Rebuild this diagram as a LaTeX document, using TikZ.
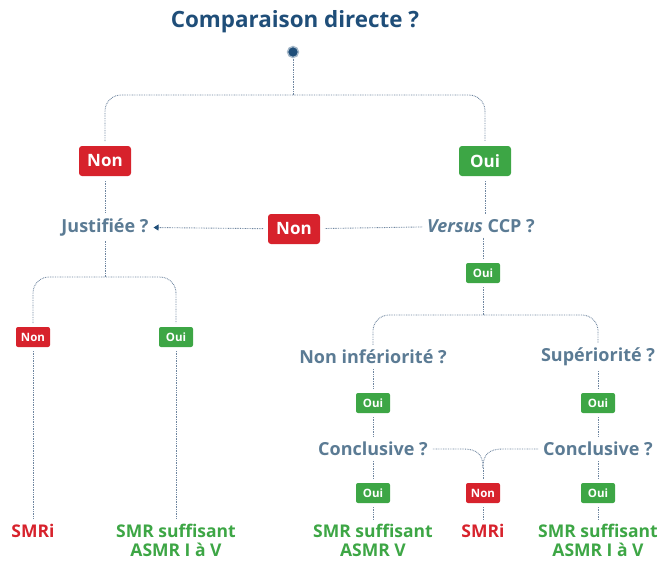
\documentclass[tikz,border=0pt]{standalone}
\usepackage{fontspec}
\setmainfont{Open Sans}
\usetikzlibrary{arrows.meta}
\definecolor{titleblue}{HTML}{1F4E79}
\definecolor{qblue}{HTML}{5B7B94}
\definecolor{redc}{HTML}{D7222C}
\definecolor{greenc}{HTML}{3DA645}
\definecolor{linec}{HTML}{6F86A0}
\begin{document}
\begin{tikzpicture}[x=1pt,y=-1pt,
 conn/.style={draw=linec, line width=0.9pt, dash pattern=on 0.8pt off 0.9pt},
 q/.style={text=qblue, font=\fontsize{18}{21}\selectfont\bfseries, inner sep=1pt, outer sep=4pt},
 bigbtn/.style={fill=#1, text=white, rounded corners=3pt, font=\fontsize{17}{19}\selectfont\bfseries, minimum width=52pt, minimum height=30pt, inner sep=0pt, outer sep=5pt},
 smallbtn/.style={fill=#1, text=white, rounded corners=2pt, font=\fontsize{11.5}{12}\selectfont\bfseries, minimum width=34pt, minimum height=20pt, inner sep=0pt, outer sep=4pt},
 res/.style={text=#1, font=\fontsize{17.5}{19}\selectfont\bfseries, align=center, inner sep=1pt, outer sep=4pt, anchor=north},
]
\useasboundingbox (0,0) rectangle (659,565);
% nodes
\node[text=titleblue, font=\fontsize{22.4}{26}\selectfont\bfseries] (title) at (295,22) {Comparaison directe ?};
\node[circle, fill=titleblue, draw=titleblue!40, line width=1.4pt, minimum size=11pt, inner sep=0pt, outer sep=1pt] (dot) at (293,52) {};
\node[bigbtn=redc] (nonA) at (105,161) {Non};
\node[bigbtn=greenc] (ouiA) at (485,161) {Oui};
\node[q] (just) at (105,227) {Justifiée ?};
\node[bigbtn=redc] (nonB) at (294,229) {Non};
\node[q] (vs) at (481,226) {\textit{Versus} CCP ?};
\node[smallbtn=greenc] (ouiB) at (483,273) {Oui};
\node[q] (ninf) at (373,357) {Non infériorité ?};
\node[q] (sup) at (598,357) {Supériorité ?};
\node[smallbtn=greenc] (ouiC) at (373,403) {Oui};
\node[smallbtn=greenc] (ouiD) at (598,403) {Oui};
\node[q] (concL) at (373,449) {Conclusive ?};
\node[q] (concR) at (598,449) {Conclusive ?};
\node[smallbtn=greenc] (ouiE) at (373,493) {Oui};
\node[smallbtn=redc] (nonC) at (483,493) {Non};
\node[smallbtn=greenc] (ouiF) at (598,493) {Oui};
\node[res=greenc] (resM) at (373,519) {SMR suffisant\\ASMR V};
\node[res=redc] (smriM) at (483,519) {SMRi};
\node[res=greenc] (resR) at (598,519) {SMR suffisant\\ASMR I à V};
\node[smallbtn=redc] (nonD) at (33,337) {Non};
\node[smallbtn=greenc] (ouiG) at (176,337) {Oui};
\node[res=redc] (smriL) at (33,519) {SMRi};
\node[res=greenc] (resL) at (176,519) {SMR suffisant\\ASMR I à V};
\coordinate (top) at (293,95);
\coordinate (mid) at (483,315);
\coordinate (low) at (105,277);
\coordinate (merge) at (483,468);
% connectors
\draw[conn] (dot) -- (top);
\draw[conn, rounded corners=16pt] (nonA.north) |- (top) -| (ouiA.north);
\draw[conn] (nonA) -- (just);
\draw[conn] (ouiA) -- (ouiA |- vs.north);
\draw[conn] (vs) -- (nonB);
\draw[conn, -{Triangle[length=5pt,width=6pt,color=titleblue]}] (nonB) -- (just);
\draw[conn] (ouiB |- vs.south) -- (ouiB);
\draw[conn] (ouiB) -- (mid);
\draw[conn, rounded corners=16pt] (ninf.north) |- (mid) -| (sup.north);
\draw[conn] (ninf) -- (ouiC);
\draw[conn] (ouiC) -- (concL);
\draw[conn] (sup) -- (ouiD);
\draw[conn] (ouiD) -- (concR);
\draw[conn] (concL) -- (ouiE);
\draw[conn] (ouiE) -- (resM);
\draw[conn] (concR) -- (ouiF);
\draw[conn] (ouiF) -- (resR);
\draw[conn] (concL.east) -- (463,449) .. controls (478,449) and (483,455) .. (merge);
\draw[conn] (concR.west) -- (503,449) .. controls (488,449) and (483,455) .. (merge);
\draw[conn] (merge) -- (nonC.north);
\draw[conn] (nonC) -- (smriM);
\draw[conn] (just) -- (low);
\draw[conn, rounded corners=16pt] (nonD.north) |- (low) -| (ouiG.north);
\draw[conn] (nonD) -- (smriL);
\draw[conn] (ouiG) -- (resL);
\end{tikzpicture}
\end{document}
